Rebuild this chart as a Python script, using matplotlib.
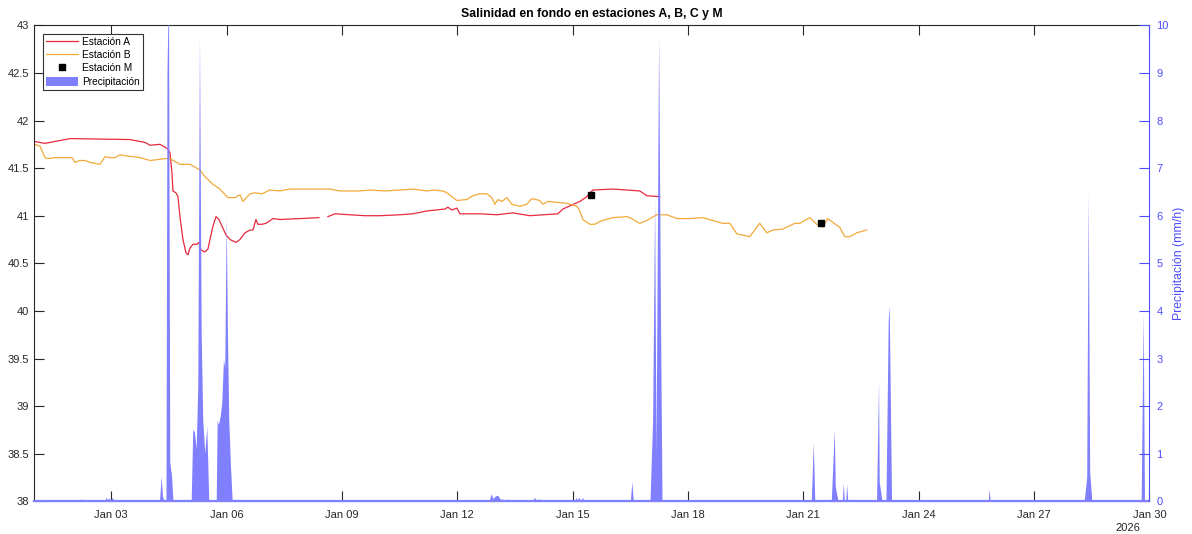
import numpy as np
import pandas as pd
import matplotlib
matplotlib.use("Agg")
import matplotlib.pyplot as plt
import matplotlib.dates as mdates
from matplotlib.lines import Line2D
from matplotlib.patches import Patch

plt.rcParams['font.family'] = ['Liberation Sans', 'DejaVu Sans']

# ---------------- data (day of January 2026, fractional) ----------------
a_day = [1.0, 1.278, 1.928, 3.488, 3.878, 4.008, 4.268, 4.398, 4.476, 4.528, 4.580,
         4.606, 4.684, 4.736, 4.788, 4.866, 4.944, 4.996, 5.048, 5.126, 5.230, 5.282,
         5.334, 5.438, 5.516, 5.568, 5.646, 5.724, 5.802, 5.880, 5.984, 6.088, 6.244,
         6.348, 6.478, 6.608, 6.686, 6.764, 6.816, 6.920, 7.024, 7.206, 7.388, 7.908,
         8.402, 8.52, 8.636, 8.818, 9.208, 9.598, 9.988, 10.508, 10.846, 11.210, 11.678,
         11.756, 11.860, 11.990, 12.068, 12.588, 13.030, 13.446, 13.888, 14.616, 14.746,
         15.188, 15.370, 15.526, 16.046, 16.410, 16.748, 16.930, 17.268]
a_sal = [41.78, 41.76, 41.81, 41.80, 41.77, 41.74, 41.75, 41.72, 41.70, 41.66, 41.45,
         41.26, 41.24, 41.20, 40.99, 40.75, 40.61, 40.59, 40.66, 40.70, 40.70, 40.72,
         40.64, 40.62, 40.65, 40.75, 40.89, 40.99, 40.96, 40.89, 40.80, 40.75, 40.72,
         40.75, 40.82, 40.85, 40.85, 40.96, 40.91, 40.91, 40.92, 40.97, 40.96, 40.97,
         40.98, np.nan, 40.99, 41.02, 41.01, 41.00, 41.00, 41.01, 41.02, 41.05, 41.07,
         41.09, 41.06, 41.08, 41.02, 41.02, 41.01, 41.03, 41.00, 41.02, 41.07,
         41.15, 41.20, 41.27, 41.28, 41.27, 41.26, 41.21, 41.20]

b_day = [1.0, 1.148, 1.278, 1.356, 1.538, 1.798, 1.980, 2.058, 2.188, 2.318, 2.448,
         2.708, 2.838, 2.968, 3.098, 3.228, 3.358, 3.566, 3.748, 4.008, 4.216, 4.398,
         4.528, 4.658, 4.788, 5.048, 5.308, 5.438, 5.646, 5.828, 6.036, 6.218, 6.348,
         6.426, 6.608, 6.738, 6.920, 7.128, 7.388, 7.648, 8.168, 8.688, 8.948, 9.208,
         9.468, 9.728, 10.118, 10.508, 10.846, 11.210, 11.366, 11.626, 11.730, 11.990,
         12.250, 12.406, 12.588, 12.770, 12.900, 12.978, 13.056, 13.160, 13.290, 13.420,
         13.628, 13.810, 13.940, 14.148, 14.226, 14.356, 14.590, 14.850, 15.110, 15.188,
         15.266, 15.448, 15.578, 15.708, 16.046, 16.410, 16.488, 16.748, 16.930, 17.190,
         17.450, 17.710, 18.048, 18.386, 18.646, 18.906, 19.088, 19.270, 19.608, 19.868,
         20.050, 20.206, 20.466, 20.778, 20.908, 21.168, 21.350, 21.506, 21.636, 21.870,
         21.948, 22.078, 22.208, 22.390, 22.650]
b_sal = [41.75, 41.73, 41.61, 41.60, 41.61, 41.61, 41.61, 41.56, 41.58, 41.58, 41.56,
         41.54, 41.62, 41.61, 41.61, 41.64, 41.63, 41.62, 41.61, 41.58, 41.59, 41.60,
         41.60, 41.57, 41.54, 41.54, 41.48, 41.41, 41.33, 41.28, 41.19, 41.19, 41.22,
         41.15, 41.23, 41.24, 41.23, 41.27, 41.26, 41.28, 41.28, 41.28, 41.26, 41.26,
         41.26, 41.27, 41.26, 41.27, 41.28, 41.26, 41.27, 41.26, 41.24, 41.16,
         41.17, 41.21, 41.23, 41.23, 41.19, 41.12, 41.17, 41.15, 41.19, 41.12,
         41.10, 41.12, 41.18, 41.16, 41.12, 41.15, 41.14, 41.13, 41.10, 41.05,
         40.96, 40.91, 40.91, 40.94, 40.98, 40.99, 40.98, 40.92, 40.95, 41.01,
         41.01, 40.97, 40.97, 40.98, 40.95, 40.92, 40.92, 40.81, 40.78, 40.92,
         40.82, 40.85, 40.86, 40.92, 40.92, 40.98, 40.91, 40.88, 40.97, 40.90,
         40.88, 40.78, 40.78, 40.82, 40.85]

m_day = [15.466, 21.473]
m_sal = [41.22, 40.92]

p_day = [1.0, 2.201, 2.232, 2.266,
         2.851, 2.883, 2.916, 2.955, 2.994, 3.046, 3.085, 3.124, 3.150,
         4.268, 4.313, 4.346, 4.385, 4.437, 4.463, 4.502, 4.536, 4.580, 4.619,
         5.093, 5.134, 5.178, 5.222, 5.264, 5.308, 5.353, 5.394, 5.446, 5.498, 5.550,
         5.743, 5.769, 5.802, 5.847, 5.888, 5.932, 5.966, 6.003, 6.036, 6.070, 6.114, 6.159,
         12.848, 12.892, 12.939, 13.004, 13.064, 13.134, 13.186, 13.238, 13.316, 13.368,
         13.966, 14.018, 14.070, 14.148, 14.226,
         15.059, 15.103, 15.137, 15.170, 15.215, 15.274, 15.305,
         16.515, 16.554, 16.593,
         17.026, 17.094, 17.146, 17.183, 17.250, 17.302, 17.339,
         21.221, 21.273, 21.312,
         21.741, 21.819, 21.845, 21.915,
         22.027, 22.053, 22.079, 22.118, 22.139, 22.170,
         22.918, 22.970, 22.988, 23.059,
         23.163, 23.222, 23.248, 23.309,
         25.822, 25.848, 25.874,
         28.319, 28.384, 28.423, 28.462, 28.519,
         29.801, 29.853, 29.887, 30.0]
p_val = [0, 0, 0.05, 0,
         0, 0.08, 0.02, 0.06, 0.02, 0.07, 0.0, 0.04, 0,
         0, 0.52, 0.10, 0, 0, 9.0, 10.8, 0.8, 0.55, 0,
         0, 1.5, 1.45, 1.1, 2.4, 9.76, 3.5, 1.7, 1.0, 1.57, 0,
         0, 1.7, 1.6, 1.78, 2.06, 2.97, 2.8, 5.98, 3.5, 1.7, 0.75, 0,
         0, 0.15, 0.05, 0.10, 0.12, 0.03, 0.04, 0, 0.04, 0,
         0, 0.07, 0.02, 0.04, 0,
         0, 0.07, 0.01, 0.08, 0, 0.07, 0,
         0, 0.40, 0,
         0, 1.7, 6.33, 1.0, 9.76, 3.5, 0,
         0, 1.23, 0,
         0, 1.5, 0.3, 0,
         0, 0.38, 0, 0, 0.36, 0,
         0, 2.51, 0.4, 0,
         0, 3.8, 4.09, 0,
         0, 0.25, 0,
         0, 0.5, 6.5, 0.6, 0,
         0, 3.97, 0, 0]

x_ticks_days = [3, 6, 9, 12, 15, 18, 21, 24, 27, 30]

title = 'Salinidad en fondo en estaciones A, B, C y M'
labels = ['Estación A', 'Estación B', 'Estación M', 'Precipitación']
right_label = 'Precipitación (mm/h)'

# ---------------- helpers ----------------
base = pd.Timestamp('2026-01-01')
def to_dt(days):
    return base + pd.to_timedelta(np.asarray(days, dtype=float) - 1.0, unit='D')

c_red = '#e8293d'
c_orange = '#f2a93a'
c_precip = '#8080ff'
c_right = '#4d4dff'
c_axis = '#262626'

fig = plt.figure(figsize=(11.92, 5.34), dpi=100)
ax = fig.add_axes([0.0288, 0.0612, 0.9354, 0.8914])
ax2 = ax.twinx()

ax.plot(to_dt(a_day), a_sal, color=c_red, lw=0.9)
ax.plot(to_dt(b_day), b_sal, color=c_orange, lw=0.9)
ax.plot(to_dt(m_day), m_sal, 's', color='black', ms=4.5, ls='none')

ax2.fill_between(to_dt(p_day), 0, p_val, facecolor=c_precip, edgecolor='none', lw=0)
ax2.axhline(0, color=c_precip, lw=1.6, clip_on=False)

ax.set_xlim(to_dt([1.0])[0], to_dt([30.0])[0])
ax.set_ylim(38, 43)
ax2.set_ylim(0, 10)
ax.set_yticks(np.arange(38, 43.01, 0.5))
ax.set_yticklabels(['38', '38.5', '39', '39.5', '40', '40.5', '41', '41.5', '42', '42.5', '43'])
ax2.set_yticks(np.arange(0, 11, 1))

ax.set_xticks(to_dt(x_ticks_days))
ax.xaxis.set_major_formatter(mdates.DateFormatter('%b %d'))

ax.tick_params(axis='x', direction='in', length=7, width=0.8, top=True, bottom=True,
               color=c_axis, labelcolor=c_axis, labelsize=8, pad=6)
ax.tick_params(axis='y', direction='in', length=7, width=0.8, left=True, right=False,
               color=c_axis, labelcolor=c_axis, labelsize=8, pad=4)
ax2.tick_params(axis='y', direction='in', length=7, width=0.8, color=c_right,
                labelcolor=c_right, labelsize=8, pad=5)

for s in ['top', 'left']:
    ax.spines[s].set_color(c_axis)
    ax.spines[s].set_linewidth(0.8)
ax.spines['right'].set_visible(False)
ax2.spines['right'].set_color(c_right)
ax2.spines['right'].set_linewidth(0.8)
for s in ['top', 'left', 'bottom']:
    ax2.spines[s].set_visible(False)
ax.spines['bottom'].set_color(c_precip)

ax.set_title(title, fontsize=8.8, fontweight='bold', color='black', pad=6)
ax2.set_ylabel(right_label, color=c_right, fontsize=8.8, labelpad=3)

ax.text(0.981, -0.056, '2026', transform=ax.transAxes, ha='center', va='center',
        fontsize=8, color=c_axis)

handles = [Line2D([], [], color=c_red, lw=0.9),
           Line2D([], [], color=c_orange, lw=0.9),
           Line2D([], [], marker='s', color='black', ls='none', ms=4.5),
           Patch(facecolor=c_precip, edgecolor='none')]
leg = ax2.legend(handles, labels, loc='upper left', bbox_to_anchor=(0.008, 0.982),
                 borderaxespad=0, fontsize=7.3, frameon=True, fancybox=False,
                 edgecolor='#333333', framealpha=1, handlelength=3.1, handleheight=0.95,
                 labelspacing=0.32, borderpad=0.3, handletextpad=0.4)
leg.get_frame().set_linewidth(0.8)

fig.savefig('out.png', dpi=100)
